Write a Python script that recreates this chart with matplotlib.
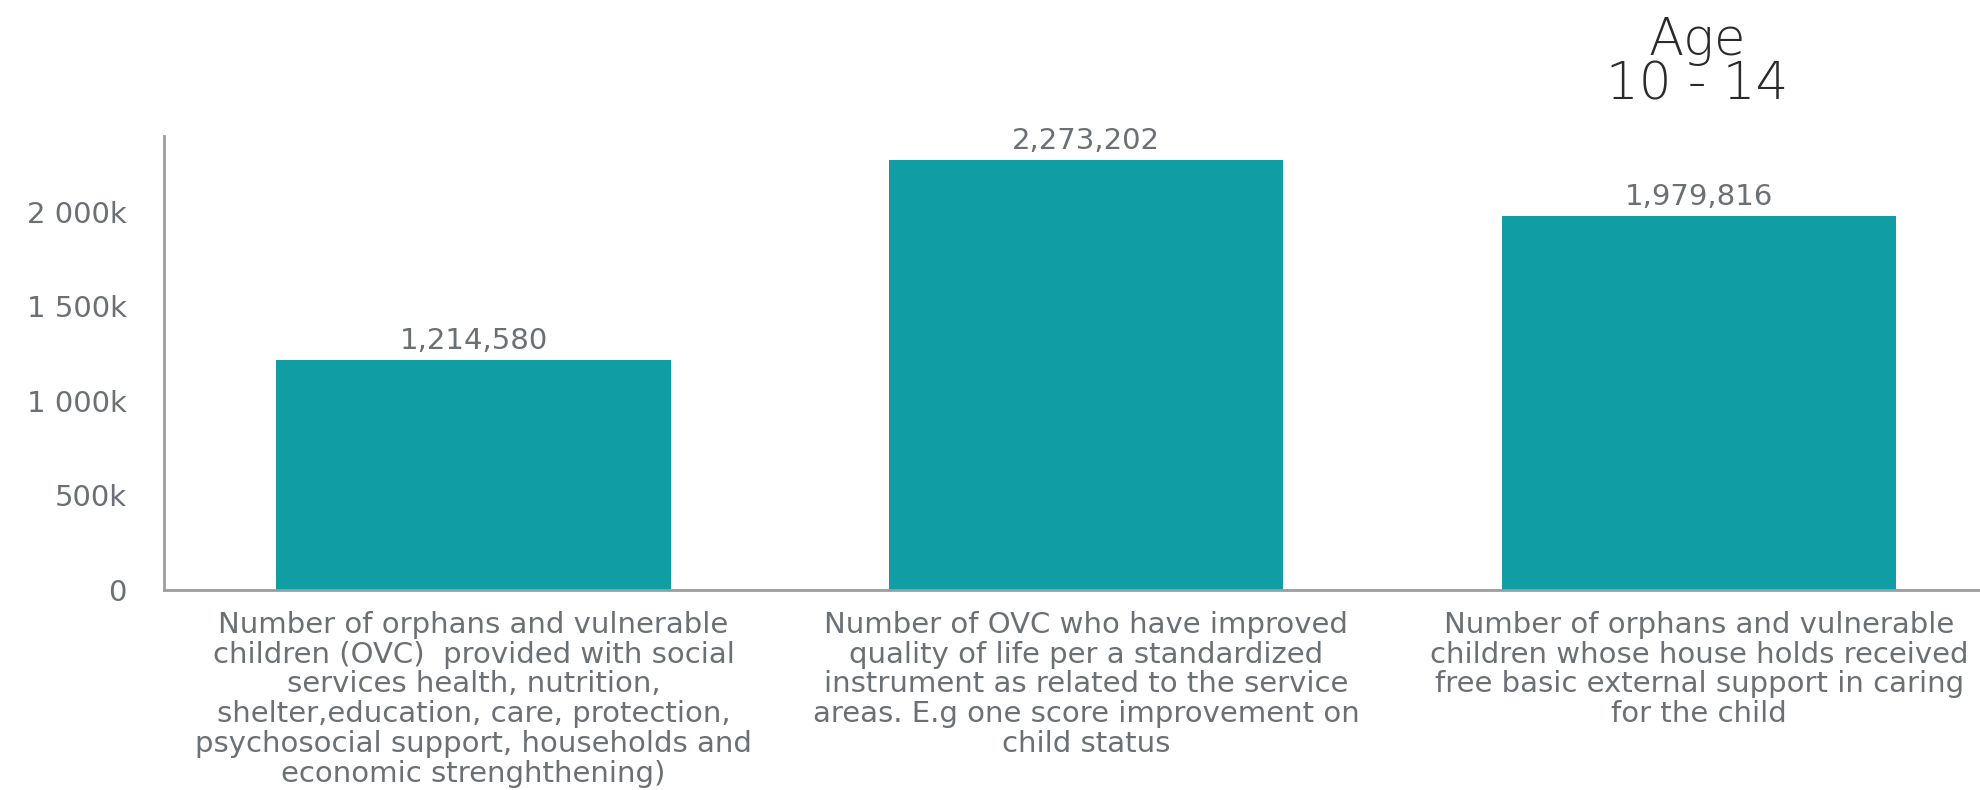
import matplotlib
matplotlib.use("Agg")
import matplotlib.pyplot as plt
from matplotlib.ticker import FuncFormatter

# Indicator data
categories = [
    "Number of orphans and vulnerable\nchildren (OVC)  provided with social\nservices health, nutrition,\nshelter,education, care, protection,\npsychosocial support, households and\neconomic strenghthening)",
    "Number of OVC who have improved\nquality of life per a standardized\ninstrument as related to the service\nareas. E.g one score improvement on\nchild status",
    "Number of orphans and vulnerable\nchildren whose house holds received\nfree basic external support in caring\nfor the child",
]
values = [1214580, 2273202, 1979816]
y_ticks = [0, 500000, 1000000, 1500000, 2000000]
title = "Age\n10 - 14"

BAR_COLOR = "#109DA4"
TEXT_COLOR = "#6b7075"
AXIS_COLOR = "#9a9ea3"

plt.rcParams["font.family"] = ["DejaVu Sans"]

fig = plt.figure(figsize=(19.81, 7.90), dpi=100)
ax = fig.add_axes([0.0828, 0.2532, 0.9172, 0.5747])

x = list(range(len(values)))
bars = ax.bar(x, values, width=0.643, color=BAR_COLOR, zorder=2)

for xi, v in zip(x, values):
    ax.annotate(f"{v:,}", xy=(xi, v), xytext=(0, 5), textcoords="offset pixels",
                ha="center", va="bottom", fontsize=21, color=TEXT_COLOR)

ax.set_xlim(-0.505, 2.46)
ax.set_ylim(0, 2402000)

ax.set_yticks(y_ticks)
ax.yaxis.set_major_formatter(FuncFormatter(
    lambda v, p: "0" if v == 0 else f"{int(v / 1000):,}k".replace(",", " ")))
ax.tick_params(axis="y", length=0, pad=27, labelsize=21, labelcolor=TEXT_COLOR)

ax.set_xticks(x)
ax.set_xticklabels(categories, fontsize=21, color=TEXT_COLOR, linespacing=1.08,
                   va="top")
ax.tick_params(axis="x", length=0, pad=15)

for side in ("top", "right"):
    ax.spines[side].set_visible(False)
for side in ("left", "bottom"):
    ax.spines[side].set_color(AXIS_COLOR)
    ax.spines[side].set_linewidth(2)

fig.text(0.8566, 0.92, title, ha="center", va="center", fontsize=37,
         fontweight="light", color="#2a2a2a", linespacing=0.88)

fig.savefig("out.png", dpi=100, facecolor="white")
